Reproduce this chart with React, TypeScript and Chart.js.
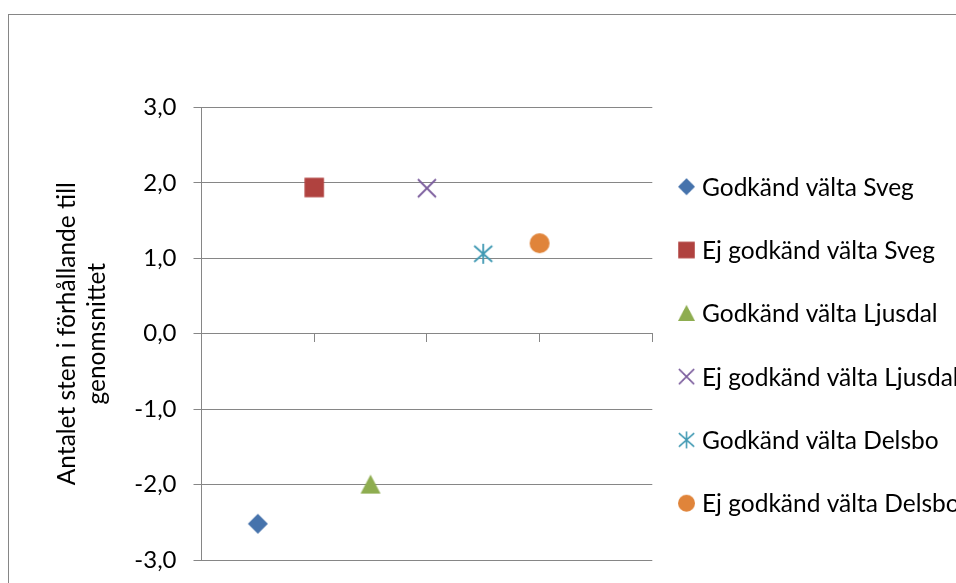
import React, { useEffect, useRef } from "react";
import { Chart, registerables } from "chart.js";

Chart.register(...registerables);

// Series shown in the chart and its legend
const seriesNames = [
  "Godkänd välta Sveg",
  "Ej godkänd välta Sveg",
  "Godkänd välta Ljusdal",
  "Ej godkänd välta Ljusdal",
  "Godkänd välta Delsbo",
  "Ej godkänd välta Delsbo",
];
const xValues = [0.5, 1, 1.5, 2, 2.5, 3];
const yValues = [-2.52, 1.94, -2.0, 1.93, 1.06, 1.2];
const markerKinds = ["diamond", "square", "triangle", "x", "star", "circle"];
const markerColors = ["#4673AC", "#B0423F", "#8EAD50", "#7B5D9D", "#4099B3", "#E0843A"];

const yTitleLines = ["Antalet sten i förhållande till", "genomsnittet"];
const yMin = -3;
const yMax = 3;
const xMin = 0;
const xMax = 4;

const FONT = "Lato, 'Open Sans', sans-serif";
const AXIS_GRAY = "#868686";
const CANVAS_W = 956;
const CANVAS_H = 600;

function makeMarker(kind: string, color: string): HTMLCanvasElement {
  const c = document.createElement("canvas");
  const s = 22;
  c.width = s;
  c.height = s;
  const g = c.getContext("2d")!;
  const m = s / 2;
  g.fillStyle = color;
  g.strokeStyle = color;
  g.lineWidth = 1.8;
  g.beginPath();
  if (kind === "diamond") {
    g.moveTo(m, m - 10);
    g.lineTo(m + 10, m);
    g.lineTo(m, m + 10);
    g.lineTo(m - 10, m);
    g.closePath();
    g.fill();
  } else if (kind === "square") {
    g.rect(m - 9.75, m - 9.75, 19.5, 19.5);
    g.fill();
  } else if (kind === "triangle") {
    g.moveTo(m, m - 10);
    g.lineTo(m + 10, m + 9);
    g.lineTo(m - 10, m + 9);
    g.closePath();
    g.fill();
  } else if (kind === "x") {
    g.moveTo(m - 9, m - 9);
    g.lineTo(m + 9, m + 9);
    g.moveTo(m + 9, m - 9);
    g.lineTo(m - 9, m + 9);
    g.stroke();
  } else if (kind === "star") {
    g.moveTo(m, m - 10);
    g.lineTo(m, m + 10);
    g.moveTo(m - 9, m - 8);
    g.lineTo(m + 9, m + 8);
    g.moveTo(m + 9, m - 8);
    g.lineTo(m - 9, m + 8);
    g.stroke();
  } else {
    g.arc(m, m, 10, 0, Math.PI * 2);
    g.fill();
  }
  return c;
}

// Outer frame of the chart
const framePlugin = {
  id: "frame",
  beforeDraw(chart: any) {
    const ctx = chart.ctx;
    ctx.save();
    ctx.fillStyle = "#ffffff";
    ctx.fillRect(0, 0, chart.width, chart.height);
    ctx.strokeStyle = AXIS_GRAY;
    ctx.lineWidth = 1;
    ctx.strokeRect(8.5, 14.5, 1200, 1200);
    ctx.restore();
  },
};

// Legend listed to the right of the plot
const sideLegendPlugin = {
  id: "sideLegend",
  afterDraw(chart: any) {
    const ctx = chart.ctx;
    ctx.save();
    ctx.font = `24.5px ${FONT}`;
    ctx.fillStyle = "#000000";
    ctx.textBaseline = "middle";
    ctx.textAlign = "left";
    chart.data.datasets.forEach((ds: any, i: number) => {
      const y = 186.7 + 63.3 * i;
      const img = ds.pointStyle as HTMLCanvasElement;
      const w = img.width * 0.85;
      const h = img.height * 0.85;
      ctx.drawImage(img, 686.5 - w / 2, y - h / 2, w, h);
      ctx.fillText(ds.label, 702, y + 1);
    });
    ctx.restore();
  },
};

export default function App() {
  const canvasRef = useRef<HTMLCanvasElement | null>(null);

  useEffect(() => {
    const canvas = canvasRef.current;
    if (!canvas) return;
    const datasets = seriesNames.map((name, i) => ({
      label: name,
      data: [{ x: xValues[i], y: yValues[i] }],
      pointStyle: makeMarker(markerKinds[i], markerColors[i]),
      backgroundColor: markerColors[i],
      borderColor: markerColors[i],
      showLine: false,
    }));

    const chart = new Chart(canvas, {
      type: "scatter",
      data: { datasets },
      plugins: [framePlugin, sideLegendPlugin],
      options: {
        animation: false,
        responsive: false,
        devicePixelRatio: 1,
        layout: { padding: { left: 0, top: 107.5, right: 303.7, bottom: CANVAS_H - 560 } },
        plugins: { legend: { display: false }, tooltip: { enabled: false } },
        scales: {
          x: {
            type: "linear",
            min: xMin,
            max: xMax,
            position: { y: 0 },
            ticks: { display: false, stepSize: 1 },
            grid: { drawOnChartArea: false, drawTicks: true, tickLength: 8, color: AXIS_GRAY },
            border: { display: true, color: AXIS_GRAY, width: 1 },
          },
          y: {
            type: "linear",
            min: yMin,
            max: yMax,
            ticks: {
              stepSize: 1,
              padding: 17,
              color: "#000000",
              font: { family: FONT, size: 24 },
              callback: (v: any) => Number(v).toFixed(1).replace(".", ","),
            },
            grid: { color: AXIS_GRAY, drawTicks: true, tickLength: 8 },
            border: { display: true, color: AXIS_GRAY, width: 1 },
            title: {
              display: true,
              text: yTitleLines,
              color: "#000000",
              font: { family: FONT, size: 24.5, lineHeight: "30px" },
              padding: { top: 52, bottom: 0 },
            },
            afterFit: (scale: any) => {
              scale.width = 201.5;
            },
          },
        },
      },
    });
    return () => chart.destroy();
  }, []);

  return (
    <div style={{ position: "fixed", left: 0, top: 0, width: 956, height: 583, overflow: "hidden", background: "#fff" }}>
      <canvas ref={canvasRef} width={CANVAS_W} height={CANVAS_H} style={{ display: "block", width: CANVAS_W, height: CANVAS_H }} />
    </div>
  );
}
